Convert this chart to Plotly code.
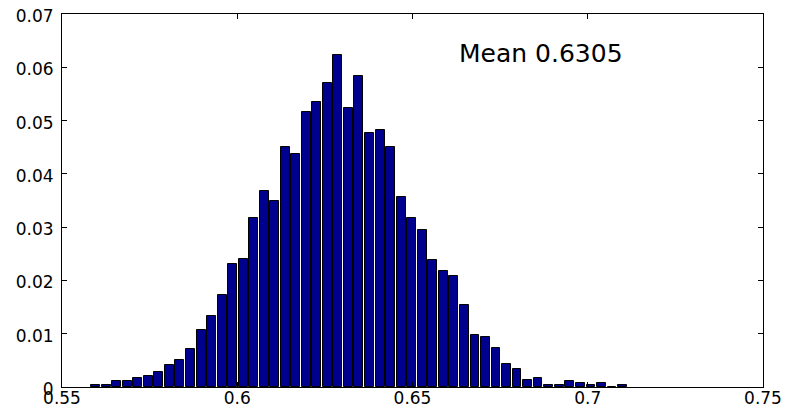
import plotly.graph_objects as go

bin_centers = [0.5596, 0.5626, 0.5656, 0.5686, 0.5716, 0.5746, 0.5776, 0.5806, 0.5836, 0.5867,
               0.5897, 0.5927, 0.5957, 0.5987, 0.6017, 0.6047, 0.6077, 0.6107, 0.6137, 0.6167,
               0.6197, 0.6227, 0.6257, 0.6287, 0.6317, 0.6347, 0.6378, 0.6408, 0.6438, 0.6468,
               0.6498, 0.6528, 0.6558, 0.6588, 0.6618, 0.6648, 0.6678, 0.6708, 0.6738, 0.6768,
               0.6798, 0.6828, 0.6858, 0.6889, 0.6919, 0.6949, 0.6979, 0.7009, 0.7039, 0.7069,
               0.7099]
frequencies = [0.0003, 0.0003, 0.0011, 0.0011, 0.0017, 0.0020, 0.0028, 0.0041, 0.0050, 0.0071,
               0.0107, 0.0134, 0.0173, 0.0230, 0.0241, 0.0317, 0.0367, 0.0350, 0.0450, 0.0437,
               0.0517, 0.0534, 0.0570, 0.0624, 0.0523, 0.0583, 0.0477, 0.0483, 0.0450, 0.0357,
               0.0317, 0.0294, 0.0238, 0.0217, 0.0208, 0.0154, 0.0097, 0.0093, 0.0074, 0.0044,
               0.0034, 0.0014, 0.0017, 0.0004, 0.0004, 0.0011, 0.0007, 0.0004, 0.0007, 0.0000,
               0.0004]
x_ticks = [0.55, 0.6, 0.65, 0.7, 0.75]
x_tick_labels = ["0.55", "0.6", "0.65", "0.7", "0.75"]
y_ticks = [0, 0.01, 0.02, 0.03, 0.04, 0.05, 0.06, 0.07]
y_tick_labels = ["0", "0.01", "0.02", "0.03", "0.04", "0.05", "0.06", "0.07"]
mean_label = "Mean 0.6305"

fig = go.Figure()
fig.add_trace(go.Bar(
    x=bin_centers, y=frequencies, width=0.0025,
    marker=dict(color="#00008F", line=dict(color="black", width=1)),
    showlegend=False, hoverinfo="x+y",
))

fig.add_annotation(
    x=0.6627, y=0.0625, xref="x", yref="y", text=mean_label, showarrow=False,
    xanchor="left", yanchor="middle",
    font=dict(family="DejaVu Sans", size=25, color="black"),
)

axis_common = dict(
    showline=True, linecolor="black", linewidth=1, mirror="ticks",
    ticks="inside", ticklen=5, tickcolor="black", showgrid=False, zeroline=False,
    automargin=False, ticklabeloverflow="allow",
    tickfont=dict(family="DejaVu Sans", size=17, color="black"),
)
fig.update_xaxes(range=[0.55, 0.75], tickvals=x_ticks, ticktext=x_tick_labels,
                 ticklabelstandoff=-4, **axis_common)
fig.update_yaxes(range=[0, 0.07], tickvals=y_ticks, ticktext=y_tick_labels,
                 ticklabelstandoff=4, ticklabelshift=2, **axis_common)

fig.update_layout(
    width=781, height=400,
    margin=dict(l=54, r=26, t=6, b=21, autoexpand=False),
    paper_bgcolor="white", plot_bgcolor="white",
    bargap=0,
)

fig.write_html("out.html")
